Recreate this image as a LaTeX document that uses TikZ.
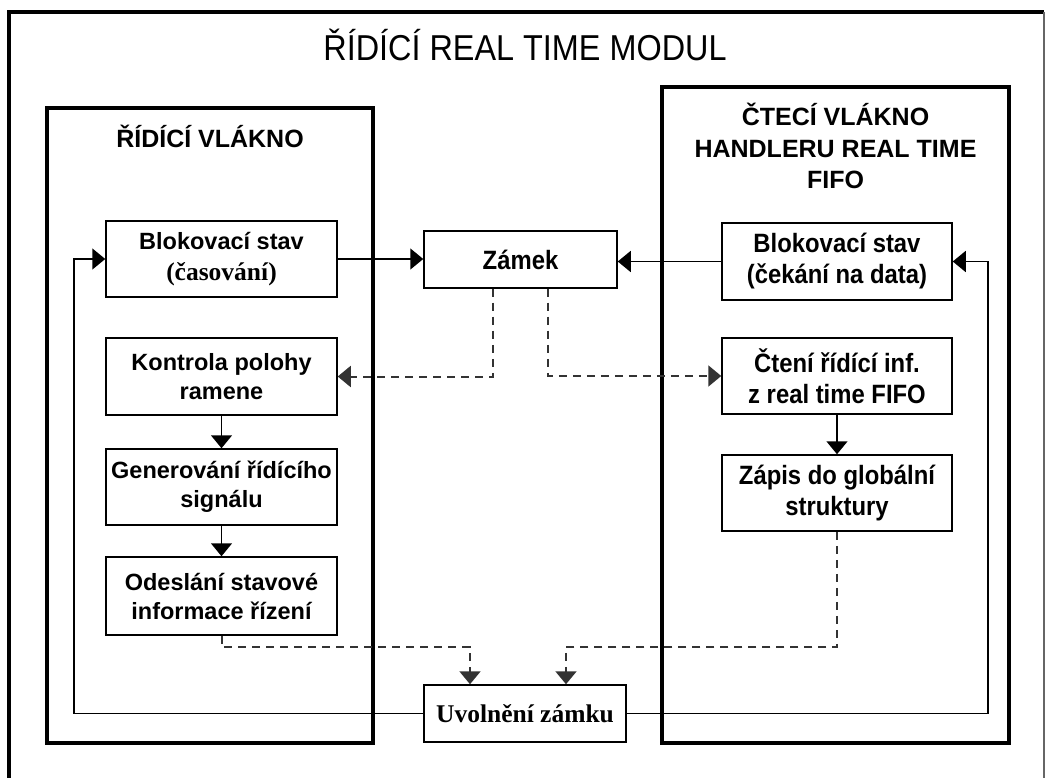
\documentclass[tikz,border=0pt]{standalone}
\usepackage{fontspec}
\setmainfont{Liberation Sans}
\newfontfamily\narrowsans[FakeStretch=0.9]{Liberation Sans}
\newfontfamily\boldserif{Liberation Serif}
\usetikzlibrary{arrows.meta}

\begin{document}
\begin{tikzpicture}[x=1pt,y=-1pt,
  frame/.style={draw, line width=3.5pt, inner sep=0pt},
  box/.style={draw, line width=1.5pt, inner sep=0pt, align=center,
    font=\fontsize{23.5}{29}\selectfont\bfseries},
  nbox/.style={box, font=\fontsize{26.5}{31}\selectfont\narrowsans\bfseries},
  sbox/.style={box, font=\fontsize{25.5}{29}\selectfont\boldserif\bfseries},
  heading/.style={align=center, font=\fontsize{25}{31.5}\selectfont\bfseries},
  flow/.style={line width=1.6pt, -{Triangle[length=13pt,width=21pt]}},
  sync/.style={flow, black!80, line width=2pt, dash pattern=on 8pt off 6pt},
]
\useasboundingbox (0,0) rectangle (1045,778);

% outer module frame
\draw[line width=3.5pt] (9,778) -- (9,12) -- (1044,12);
\draw[line width=1.5pt, black!60] (1044,12) -- (1044,778);
\node[font=\fontsize{36}{36}\selectfont\narrowsans] (title) at (525,45) {ŘÍDÍCÍ REAL TIME MODUL};

% thread frames
\node[frame, minimum width=326pt, minimum height=635pt] (ctrl) at (210,425.5) {};
\node[heading] (ctrltitle) at (210,136) {ŘÍDÍCÍ VLÁKNO};
\node[frame, minimum width=347pt, minimum height=656pt] (reader) at (835.5,415) {};
\node[heading] (readertitle) at (835.5,146) {ČTECÍ VLÁKNO\\HANDLERU REAL TIME\\FIFO};

% control thread steps
\node[box, minimum width=231pt, minimum height=76pt] (b1) at (221.5,259)
  {Blokovací stav\\[2pt]{\fontsize{25.5}{29}\selectfont\boldserif\bfseries (časování)}};
\node[box, minimum width=231pt, minimum height=77pt] (kontrola) at (221.5,376.5)
  {Kontrola polohy\\ramene};
\node[box, minimum width=231pt, minimum height=76pt] (generovani) at (221.5,487)
  {Generování řídícího\\signálu};
\node[box, minimum width=231pt, minimum height=78pt] (odeslani) at (221.5,596)
  {Odeslání stavové\\informace řízení};

% lock
\node[nbox, minimum width=193pt, minimum height=57pt] (zamek) at (520.5,259.5) {Zámek};
\node[sbox, minimum width=202pt, minimum height=57pt] (uvol) at (525,713.5) {Uvolnění zámku};

% reader thread steps
\node[nbox, minimum width=230pt, minimum height=77pt] (b2) at (837,261.5)
  {Blokovací stav\\(čekání na data)};
\node[nbox, minimum width=230pt, minimum height=76pt] (cteni) at (837,376)
  {Čtení řídící inf.\\z real time FIFO};
\node[nbox, minimum width=230pt, minimum height=76pt] (zapis) at (837,493)
  {Zápis do globální\\struktury};

% helper coordinates for routing
\coordinate (lx) at (74,0);
\coordinate (rx) at (988,0);
\coordinate (jy) at (0,647);
\coordinate (za) at ([xshift=-27.5pt]zamek.south);
\coordinate (zb) at ([xshift=27.5pt]zamek.south);
\coordinate (ua) at ([xshift=-55pt]uvol.north);
\coordinate (ub) at ([xshift=41pt]uvol.north);

% solid flow
\draw[flow] (b1.east) -- (zamek.west |- b1.east);
\draw[flow] (b2.west) -- (zamek.east |- b2.west);
\draw[flow] (kontrola) -- (generovani);
\draw[flow] (generovani) -- (odeslani);
\draw[flow] (cteni) -- (zapis);
\draw[flow] (uvol.west) -| (lx |- b1.west) -- (b1.west);
\draw[flow] (uvol.east) -| (rx |- b2.east) -- (b2.east);

% synchronisation (dashed)
\draw[sync] (za) |- (kontrola.east);
\draw[sync] (zb) |- (cteni.west);
\draw[sync] (odeslani.south) -- (odeslani.south |- jy) -| (ua);
\draw[sync] (zapis.south) -- (zapis.south |- jy) -| (ub);
\end{tikzpicture}
\end{document}
